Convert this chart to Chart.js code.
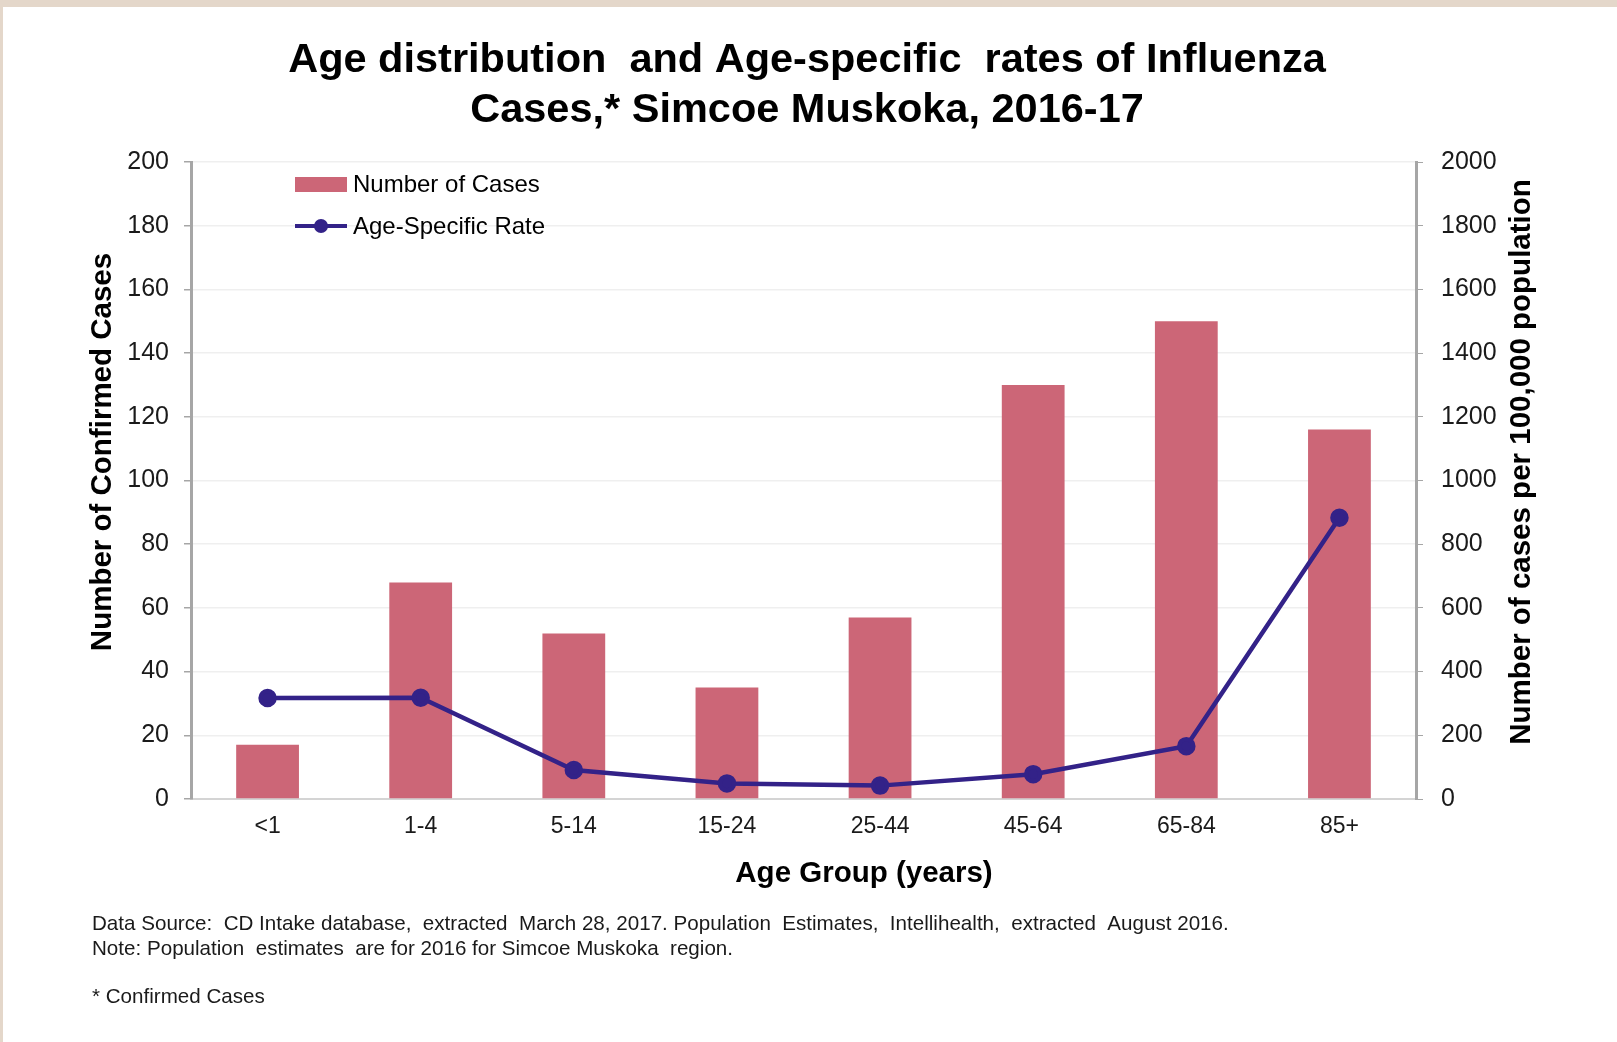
<!DOCTYPE html>
<html><head><meta charset="utf-8">
<script src="https://cdn.jsdelivr.net/npm/chart.js@4.4.0/dist/chart.umd.min.js"></script>
<style>
html,body{margin:0;padding:0;background:#e4d7ca;overflow:hidden;}
#wrap{position:absolute;left:0;top:0;width:1617px;height:1042px;}
#paper{position:absolute;left:3px;top:7px;width:1614px;height:1035px;background:#ffffff;}
canvas{position:absolute;left:0;top:0;}
</style></head>
<body><div id="wrap"><div id="paper"></div><canvas id="c" width="1617" height="1042"></canvas></div>
<script>
const categories = ['<1', '1-4', '5-14', '15-24', '25-44', '45-64', '65-84', '85+'];
const caseCounts = [17, 68, 52, 35, 57, 130, 150, 116];
const ageRates = [317, 318, 91, 49, 42, 78, 166, 883];
const leftTicks = [0, 20, 40, 60, 80, 100, 120, 140, 160, 180, 200];
const rightTicks = [0, 200, 400, 600, 800, 1000, 1200, 1400, 1600, 1800, 2000];

const titleLines = ['Age distribution  and Age-specific  rates of Influenza', 'Cases,* Simcoe Muskoka, 2016-17'];
const leftTitle = 'Number of Confirmed Cases';
const rightTitle = 'Number of cases per 100,000 population';
const xTitle = 'Age Group (years)';
const notes = [
  'Data Source:  CD Intake database,  extracted  March 28, 2017. Population  Estimates,  Intellihealth,  extracted  August 2016.',
  'Note: Population  estimates  are for 2016 for Simcoe Muskoka  region.',
  '',
  '* Confirmed Cases'
];

const FONT = '"Liberation Sans", Arial, sans-serif';
const BAR = '#cc6677';
const LINE = '#332288';

const textPlugin = {
  id: 'texts',
  afterDraw(chart) {
    const ctx = chart.ctx;
    ctx.save();
    ctx.fillStyle = '#000';
    ctx.textAlign = 'center';
    ctx.textBaseline = 'middle';
    ctx.font = 'bold 41.5px ' + FONT;
    ctx.fillText(titleLines[0], 807, 61);
    ctx.fillText(titleLines[1], 807, 111);

    ctx.font = 'bold 29.5px ' + FONT;
    ctx.fillText(xTitle, 864, 874);
    ctx.save();
    ctx.translate(103, 452); ctx.rotate(-Math.PI / 2);
    ctx.fillText(leftTitle, 0, 0);
    ctx.restore();
    ctx.save();
    ctx.translate(1522, 462); ctx.rotate(-Math.PI / 2);
    ctx.fillText(rightTitle, 0, 0);
    ctx.restore();

    // legend
    const ds = chart.data.datasets;
    const barDs = ds.find(d => d.type === 'bar');
    const lineDs = ds.find(d => d.type === 'line');
    ctx.textAlign = 'left';
    ctx.font = '24px ' + FONT;
    ctx.fillStyle = barDs.backgroundColor;
    ctx.fillRect(295, 177, 52, 15);
    ctx.fillStyle = '#000';
    ctx.fillText(barDs.label, 353, 185);
    ctx.strokeStyle = lineDs.borderColor;
    ctx.lineWidth = 4;
    ctx.beginPath(); ctx.moveTo(295, 226); ctx.lineTo(347, 226); ctx.stroke();
    ctx.fillStyle = lineDs.pointBackgroundColor;
    ctx.beginPath(); ctx.arc(321, 226, 7, 0, Math.PI * 2); ctx.fill();
    ctx.fillStyle = '#000';
    ctx.fillText(lineDs.label, 353, 227);

    // notes
    ctx.font = '20.6px ' + FONT;
    ctx.fillStyle = '#1a1a1a';
    const ys = [924, 949, 973, 997];
    notes.forEach((t, i) => { if (t) ctx.fillText(t, 92, ys[i]); });
    ctx.restore();
  }
};

new Chart(document.getElementById('c'), {
  data: {
    labels: categories,
    datasets: [
      {
        type: 'line', label: 'Age-Specific Rate', data: ageRates, yAxisID: 'y1',
        borderColor: LINE, backgroundColor: LINE, pointBackgroundColor: LINE, pointBorderColor: LINE,
        borderWidth: 4.5, pointRadius: 7, tension: 0, order: 0
      },
      {
        type: 'bar', label: 'Number of Cases', data: caseCounts, yAxisID: 'y',
        backgroundColor: BAR, barPercentage: 0.41, categoryPercentage: 1, order: 1
      }
    ]
  },
  options: {
    responsive: false,
    devicePixelRatio: 1,
    animation: false,
    layout: { padding: { top: 162, left: 0, right: 0, bottom: 0 } },
    plugins: { legend: { display: false }, title: { display: false }, tooltip: { enabled: false } },
    scales: {
      x: {
        grid: { display: false },
        border: { display: true, color: '#d4d4d4', width: 2 },
        ticks: { color: '#1a1a1a', font: { family: FONT, size: 23 }, padding: 6, maxRotation: 0 },
        afterFit(s) { s.height = 243; }
      },
      y: {
        position: 'left', min: 0, max: 200,
        afterBuildTicks(s) { s.ticks = leftTicks.map(v => ({ value: v })); },
        grid: { color: '#efefef', lineWidth: 1.5, tickColor: '#a6a6a6', tickLength: 7 },
        border: { display: true, color: '#a6a6a6', width: 3 },
        ticks: { color: '#1a1a1a', font: { family: FONT, size: 25 }, padding: 15 },
        afterFit(s) { s.width = 191; }
      },
      y1: {
        position: 'right', min: 0, max: 2000,
        afterBuildTicks(s) { s.ticks = rightTicks.map(v => ({ value: v })); },
        grid: { drawOnChartArea: false, tickColor: '#a6a6a6', tickLength: 7 },
        border: { display: true, color: '#a6a6a6', width: 3 },
        ticks: { color: '#1a1a1a', font: { family: FONT, size: 25 }, padding: 18, callback: v => String(v) },
        afterFit(s) { s.width = 201; }
      }
    }
  },
  plugins: [textPlugin]
});
</script>
</body></html>
